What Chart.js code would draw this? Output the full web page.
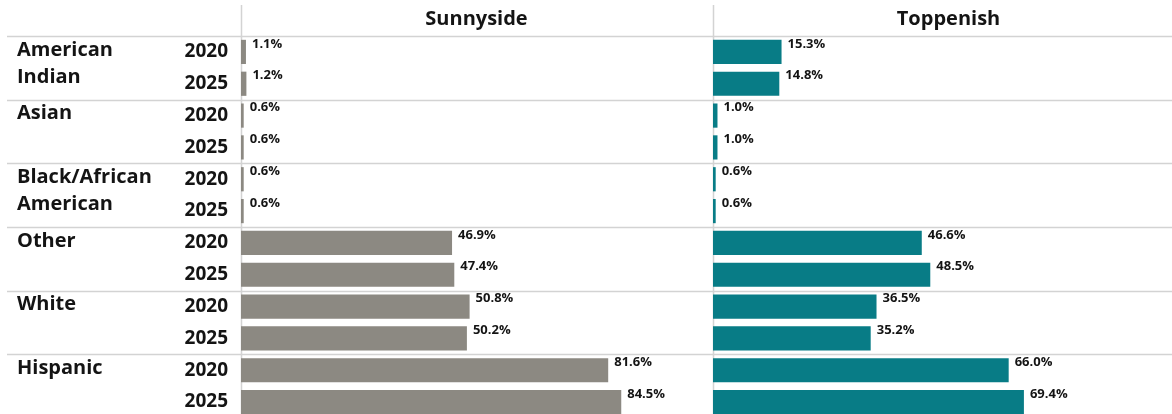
<!DOCTYPE html>
<html>
<head>
<meta charset="utf-8">
<script src="https://cdn.jsdelivr.net/npm/chart.js@4"></script>
<style>
  html, body { margin: 0; padding: 0; background: #fff; overflow: hidden; }
  #wrap { position: relative; width: 1172px; height: 414px; overflow: hidden; }
  #leftChart { position: absolute; left: 0; top: 0; }
  #rightChart { position: absolute; left: 712px; top: 0; }
</style>
</head>
<body>
<div id="wrap">
  <canvas id="leftChart" width="712" height="418"></canvas>
  <canvas id="rightChart" width="472" height="418"></canvas>
</div>
<script>
// data
const categories = [["American", "Indian"], ["Asian"], ["Black/African", "American"], ["Other"], ["White"], ["Hispanic"]];
const years = ["2020", "2025"];
const places = ["Sunnyside", "Toppenish"];
const sunnyside2020 = [1.1, 0.6, 0.6, 46.9, 50.8, 81.6];
const sunnyside2025 = [1.2, 0.6, 0.6, 47.4, 50.2, 84.5];
const toppenish2020 = [15.3, 1.0, 0.6, 46.6, 36.5, 66.0];
const toppenish2025 = [14.8, 1.0, 0.6, 48.5, 35.2, 69.4];

const GRAY = "#8c8982";
const TEAL = "#087c86";
const LINE = "#d3d3d3";
const TEXT = "#141414";
const FONT = "'Open Sans', Lato, sans-serif";

// one row per bar: category x year
const rowLabels = [];
categories.forEach(() => years.forEach(y => rowLabels.push(y)));

function interleave(a, b) {
    const out = [];
    a.forEach((v, i) => { out.push(v); out.push(b[i]); });
    return out;
}

// grid lines, header and value labels
function panelPlugin(title, lineStart, showCats) {
    return {
        id: "panel",
        beforeDatasetsDraw(chart) {
            const ctx = chart.ctx;
            const area = chart.chartArea;
            const ys = chart.scales.y;
            ctx.save();
            ctx.strokeStyle = LINE;
            ctx.lineWidth = 1.5;
            const lines = [area.top];
            for (let i = 1; i < categories.length; i++) {
                lines.push((ys.getPixelForValue(2 * i - 1) + ys.getPixelForValue(2 * i)) / 2);
            }
            lines.forEach(y => {
                ctx.beginPath();
                ctx.moveTo(lineStart, Math.round(y) + 0.5);
                ctx.lineTo(chart.width, Math.round(y) + 0.5);
                ctx.stroke();
            });
            ctx.beginPath();
            ctx.moveTo(area.left + 0.5, 5);
            ctx.lineTo(area.left + 0.5, chart.height);
            ctx.stroke();
            ctx.restore();
        },
        afterDraw(chart) {
            const ctx = chart.ctx;
            const area = chart.chartArea;
            const ys = chart.scales.y;
            ctx.save();
            ctx.fillStyle = TEXT;
            ctx.font = "bold 20px " + FONT;
            ctx.textAlign = "center";
            ctx.textBaseline = "middle";
            ctx.fillText(title, (area.left + chart.width) / 2, 19);

            if (showCats) {
                ctx.textAlign = "left";
                categories.forEach((lines, i) => {
                    const y0 = ys.getPixelForValue(2 * i) - 2;
                    lines.forEach((t, j) => ctx.fillText(t, 17, y0 + j * 27));
                });
            }

            ctx.font = "bold 13px " + FONT;
            ctx.textAlign = "left";
            const meta = chart.getDatasetMeta(0);
            meta.data.forEach((bar, i) => {
                const v = chart.data.datasets[0].data[i];
                ctx.fillText(v.toFixed(1) + "%", bar.x + 6, bar.y - bar.height / 2 + 4);
            });
            ctx.restore();
        }
    };
}

function makeChart(id, values, color, title, isLeft) {
    return new Chart(document.getElementById(id), {
        type: "bar",
        data: {
            labels: rowLabels,
            datasets: [{
                data: values,
                backgroundColor: color,
                barPercentage: 0.76,
                categoryPercentage: 1
            }]
        },
        options: {
            indexAxis: "y",
            responsive: false,
            animation: false,
            layout: { padding: isLeft ? { top: 36, right: 21 } : { top: 36, left: 1, right: 23 } },
            plugins: { legend: { display: false }, tooltip: { enabled: false } },
            scales: {
                x: { display: false, min: 0, max: 100 },
                y: {
                    display: isLeft,
                    grid: { display: false, drawTicks: false },
                    border: { display: false },
                    ticks: { padding: 13, color: TEXT, font: { family: FONT, size: 19, weight: "bold" } },
                    afterFit: s => {
                        s.width = isLeft ? 241 : 0;
                        s.paddingTop = 0;
                        s.paddingBottom = 0;
                    }
                }
            }
        },
        plugins: [panelPlugin(title, isLeft ? 7 : 0, isLeft)]
    });
}

makeChart("leftChart", interleave(sunnyside2020, sunnyside2025), GRAY, places[0], true);
makeChart("rightChart", interleave(toppenish2020, toppenish2025), TEAL, places[1], false);
</script>
</body>
</html>
